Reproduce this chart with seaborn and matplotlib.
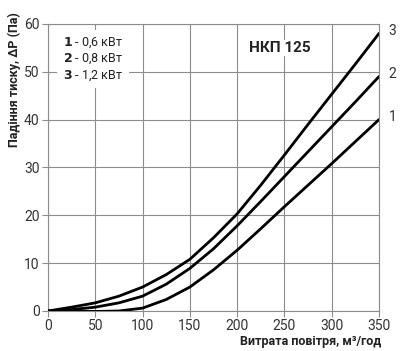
import numpy as np
import pandas as pd
import matplotlib
matplotlib.use("Agg")
import matplotlib.pyplot as plt
import seaborn as sns

# flow (m3/h) and pressure drop (Pa)
flow = [0, 25, 50, 75, 100, 125, 150, 175, 200, 225, 250, 275, 300, 325, 350]
dp_1 = [0, 0, -0.1, 0, 0.6, 2.4, 5.0, 8.6, 12.7, 17.2, 21.8, 26.3, 30.8, 35.4, 40.0]
dp_2 = [0, 0.3, 0.8, 1.7, 3.1, 5.6, 8.9, 13.0, 17.8, 22.9, 28.1, 33.3, 38.5, 43.7, 49.0]
dp_3 = [0, 0.8, 1.7, 3.1, 5.0, 7.6, 10.8, 15.3, 20.3, 26.3, 32.6, 39.0, 45.3, 51.6, 58.0]
curve_names = ["1", "2", "3"]
legend_power = ["0,6 кВт", "0,8 кВт", "1,2 кВт"]

df = pd.DataFrame({
    "flow": flow * 3,
    "dp": dp_1 + dp_2 + dp_3,
    "curve": sum([[c] * len(flow) for c in curve_names], []),
})

sns.set_theme(style="white")
plt.rcParams["font.family"] = ["Roboto", "DejaVu Sans"]

fig = plt.figure(figsize=(4.0, 3.51), dpi=100)
ax = fig.add_axes([0.12, 0.114, 0.8275, 0.818])

sns.lineplot(data=df, x="flow", y="dp", hue="curve", palette=["black"] * 3,
             linewidth=2.0, legend=False, ax=ax, zorder=3)

ax.set_xlim(0, 350)
ax.set_ylim(0, 60)
ax.set_xticks(range(0, 351, 50))
ax.set_yticks(range(0, 61, 10))
ax.grid(True, color="#8c8c8c", linewidth=0.8)
for s in ax.spines.values():
    s.set_color("#8c8c8c")
    s.set_linewidth(0.8)
ax.tick_params(axis="both", colors="#8c8c8c", labelcolor="#333333",
               labelsize=10, length=4, width=0.8, direction="out",
               left=True, bottom=True, pad=2)
ax.set_xlabel("")
ax.set_ylabel("")

# legend block
leg_txt = "\n".join(f"$\\bf{{{c}}}$ - {p}" for c, p in zip(curve_names, legend_power))
ax.text(0.045, 0.96, leg_txt, transform=ax.transAxes, fontsize=9, va="top",
        ha="left", color="#222222", linespacing=1.2, zorder=4,
        bbox=dict(facecolor="white", edgecolor="none", pad=4))

ax.text(0.70, 0.916, "НКП 125", transform=ax.transAxes, fontsize=11,
        fontweight="bold", ha="center", va="center", color="#222222",
        bbox=dict(facecolor="white", edgecolor="none", pad=1), zorder=4)

# curve numbers at the right end
for c, ys in zip(curve_names, [dp_1, dp_2, dp_3]):
    ax.annotate(c, xy=(flow[-1], ys[-1]), xytext=(7, 2), textcoords="offset points",
                fontsize=10, color="#333333", ha="left", va="center",
                annotation_clip=False)

fig.text(0.035, 1 - 80 / 351, "Падіння тиску, ΔP (Па)", rotation=90,
         fontsize=9, fontweight="bold", ha="center", va="center", color="#222222")
fig.text(0.952, 1 - 341 / 351, "Витрата повітря, м³/год", fontsize=9,
         fontweight="bold", ha="right", va="center", color="#222222")

fig.savefig("out.png", dpi=100)
